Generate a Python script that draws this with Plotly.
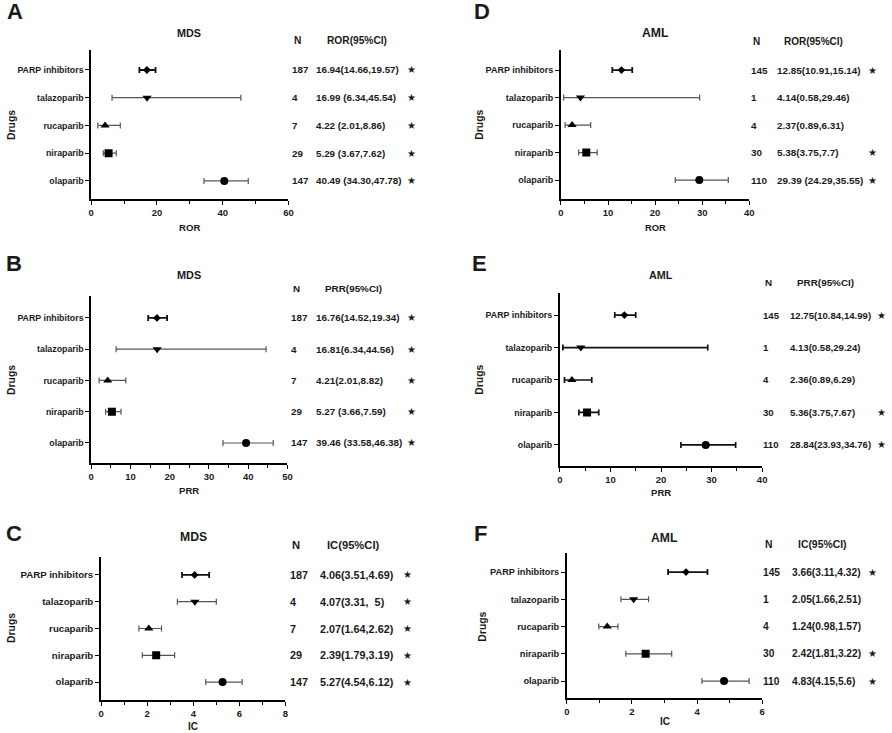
import plotly.graph_objects as go

# ---------------- data ----------------
drugs = ["PARP inhibitors", "talazoparib", "rucaparib", "niraparib", "olaparib"]
symbols = ["diamond", "triangle-down", "triangle-up", "square", "circle"]

mds_n = [187, 4, 7, 29, 147]
aml_n = [145, 1, 4, 30, 110]

mds_ror = [16.94, 16.99, 4.22, 5.29, 40.49]
mds_ror_lo = [14.66, 6.34, 2.01, 3.67, 34.30]
mds_ror_hi = [19.57, 45.54, 8.86, 7.62, 47.78]
mds_ror_txt = ["16.94(14.66,19.57)", "16.99 (6.34,45.54)", "4.22 (2.01,8.86)",
               "5.29 (3.67,7.62)", "40.49 (34.30,47.78)"]

mds_prr = [16.76, 16.81, 4.21, 5.27, 39.46]
mds_prr_lo = [14.52, 6.34, 2.01, 3.66, 33.58]
mds_prr_hi = [19.34, 44.56, 8.82, 7.59, 46.38]
mds_prr_txt = ["16.76(14.52,19.34)", "16.81(6.34,44.56)", "4.21(2.01,8.82)",
               "5.27 (3.66,7.59)", "39.46 (33.58,46.38)"]

mds_ic = [4.06, 4.07, 2.07, 2.39, 5.27]
mds_ic_lo = [3.51, 3.31, 1.64, 1.79, 4.54]
mds_ic_hi = [4.69, 5.00, 2.62, 3.19, 6.12]
mds_ic_txt = ["4.06(3.51,4.69)", "4.07(3.31,\u00a0\u00a05)", "2.07(1.64,2.62)",
              "2.39(1.79,3.19)", "5.27(4.54,6.12)"]

aml_ror = [12.85, 4.14, 2.37, 5.38, 29.39]
aml_ror_lo = [10.91, 0.58, 0.89, 3.75, 24.29]
aml_ror_hi = [15.14, 29.46, 6.31, 7.70, 35.55]
aml_ror_txt = ["12.85(10.91,15.14)", "4.14(0.58,29.46)", "2.37(0.89,6.31)",
               "5.38(3.75,7.7)", "29.39 (24.29,35.55)"]

aml_prr = [12.75, 4.13, 2.36, 5.36, 28.84]
aml_prr_lo = [10.84, 0.58, 0.89, 3.75, 23.93]
aml_prr_hi = [14.99, 29.24, 6.29, 7.67, 34.76]
aml_prr_txt = ["12.75(10.84,14.99)", "4.13(0.58,29.24)", "2.36(0.89,6.29)",
               "5.36(3.75,7.67)", "28.84(23.93,34.76)"]

aml_ic = [3.66, 2.05, 1.24, 2.42, 4.83]
aml_ic_lo = [3.11, 1.66, 0.98, 1.81, 4.15]
aml_ic_hi = [4.32, 2.51, 1.57, 3.22, 5.60]
aml_ic_txt = ["3.66(3.11,4.32)", "2.05(1.66,2.51)", "1.24(0.98,1.57)",
              "2.42(1.81,3.22)", "4.83(4.15,5.6)"]

mds_sig = [True, True, True, True, True]
aml_sig = [True, False, False, True, True]

# ---------------- layout geometry (pixels) ----------------
W, H = 892, 733
def fx(x): return x / W
def fy(y): return 1 - y / H

panels = [
    dict(letter="A", title="MDS", metric="ROR", val=mds_ror, lo=mds_ror_lo, hi=mds_ror_hi, txt=mds_ror_txt,
         n=mds_n, sig=mds_sig, xmax=60, dt=20, mdt=10, dark=False,
         ax0=89, ax1=288, top=50, bot=199, yr=[-0.65, 4.72],
         letpos=(12, 12), tpos=(188, 33), hy=41, ncol=290, vcol=314, hcol=325, scol=412,
         xlab_y=227, dlab=(8, 125), vf=9.8, hf=10.2, cf=8.8, tf=10.8, lf=9.6),
    dict(letter="B", title="MDS", metric="PRR", val=mds_prr, lo=mds_prr_lo, hi=mds_prr_hi, txt=mds_prr_txt,
         n=mds_n, sig=mds_sig, xmax=50, dt=10, mdt=5, dark=False,
         ax0=89, ax1=287, top=296, bot=463, yr=[-0.64, 4.70],
         letpos=(11, 263), tpos=(188, 275), hy=288, ncol=289, vcol=314, hcol=323, scol=412,
         xlab_y=490, dlab=(8, 380), vf=9.9, hf=9.9, cf=8.8, tf=10.9, lf=9.6),
    dict(letter="C", title="MDS", metric="IC", val=mds_ic, lo=mds_ic_lo, hi=mds_ic_hi, txt=mds_ic_txt,
         n=mds_n, sig=mds_sig, xmax=8, dt=2, mdt=1, dark=False,
         ax0=99, ax1=285, top=557, bot=700, yr=[-0.67, 4.67],
         letpos=(11, 533), tpos=(192, 537), hy=545, ncol=288, vcol=318, hcol=325, scol=408,
         xlab_y=726, dlab=(8, 628), vf=10.8, hf=11.2, cf=9.7, tf=12.2, lf=10),
    dict(letter="D", title="AML", metric="ROR", val=aml_ror, lo=aml_ror_lo, hi=aml_ror_hi, txt=aml_ror_txt,
         n=aml_n, sig=aml_sig, xmax=40, dt=10, mdt=5, dark=False,
         ax0=563, ax1=753, top=50, bot=199, yr=[-0.69, 4.73],
         letpos=(483, 12), tpos=(658, 33), hy=42, ncol=753, vcol=779, hcol=786, scol=877,
         xlab_y=227, dlab=(480, 125), vf=9.9, hf=10, cf=9, tf=12.2, lf=9.4),
    dict(letter="E", title="AML", metric="PRR", val=aml_prr, lo=aml_prr_lo, hi=aml_prr_hi, txt=aml_prr_txt,
         n=aml_n, sig=aml_sig, xmax=40, dt=10, mdt=5, dark=True,
         ax0=562, ax1=766, top=293, bot=466, yr=[-0.65, 4.68],
         letpos=(481, 263), tpos=(664, 275), hy=282, ncol=765, vcol=792, hcol=799, scol=886,
         xlab_y=492, dlab=(480, 380), vf=9.6, hf=9.9, cf=8.9, tf=10.8, lf=9.6),
    dict(letter="F", title="AML", metric="IC", val=aml_ic, lo=aml_ic_lo, hi=aml_ic_hi, txt=aml_ic_txt,
         n=aml_n, sig=aml_sig, xmax=6, dt=2, mdt=1, dark=False,
         ax0=569, ax1=766, top=553, bot=698, yr=[-0.62, 4.70],
         letpos=(482, 533), tpos=(667, 538), hy=544, ncol=765, vcol=794, hcol=800, scol=877,
         xlab_y=721, dlab=(483, 627), vf=10.2, hf=10.4, cf=9.2, tf=12.2, lf=10),
]

marker_sizes = [6, 8, 8, 8, 8]
bar_colors = ["#111111", "#555555", "#555555", "#555555", "#555555"]
bar_thick = [1.8, 1.2, 1.2, 1.2, 1.2]

FONT = "Liberation Sans, Arial, sans-serif"
TXT = "#1a1a1a"

fig = go.Figure()
annotations = []
layout_axes = {}

for k, p in enumerate(panels):
    sfx = "" if k == 0 else str(k + 1)
    xname, yname = "x" + sfx, "y" + sfx
    for i, d in enumerate(drugs):
        bc = "#111111" if p["dark"] else bar_colors[i]
        bt = 1.7 if p["dark"] else bar_thick[i]
        fig.add_trace(go.Scatter(
            x=[p["val"][i]], y=[d], mode="markers",
            marker=dict(symbol=symbols[i], size=marker_sizes[i], color="black"),
            error_x=dict(type="data", symmetric=False,
                         array=[p["hi"][i] - p["val"][i]],
                         arrayminus=[p["val"][i] - p["lo"][i]],
                         color=bc, thickness=bt, width=3),
            xaxis=xname, yaxis=yname, showlegend=False, hoverinfo="skip"))
        # table rows
        annotations.append(dict(x=fx(p["ncol"]), y=d, xref="paper", yref=yname, text=str(p["n"][i]),
                                showarrow=False, xanchor="left", yanchor="middle",
                                font=dict(size=p["vf"], family=FONT, color=TXT, weight="bold")))
        annotations.append(dict(x=fx(p["vcol"]), y=d, xref="paper", yref=yname, text=p["txt"][i],
                                showarrow=False, xanchor="left", yanchor="middle",
                                font=dict(size=p["vf"], family=FONT, color=TXT, weight="bold")))
        if p["sig"][i]:
            annotations.append(dict(x=fx(p["scol"]), y=d, xref="paper", yref=yname, text="★",
                                    showarrow=False, xanchor="center", yanchor="middle",
                                    font=dict(size=10, family="DejaVu Sans", color=TXT)))
    layout_axes["xaxis" + sfx] = dict(
        domain=[fx(p["ax0"]), fx(p["ax1"])], anchor=yname, range=[0, p["xmax"]],
        tick0=0, dtick=p["dt"], showline=True, linecolor="black", linewidth=1.8,
        ticks="outside", ticklen=4, tickwidth=1.4, tickcolor="black",
        minor=dict(dtick=p["mdt"], tick0=0, ticks="outside", ticklen=3, tickwidth=1.2, tickcolor="black"),
        showgrid=False, zeroline=False, fixedrange=True,
        tickfont=dict(size=9.5, family=FONT, color=TXT, weight="bold"))
    layout_axes["yaxis" + sfx] = dict(
        domain=[fy(p["bot"]), fy(p["top"])], anchor=xname, type="category",
        categoryorder="array", categoryarray=drugs[::-1], range=p["yr"],
        showline=True, linecolor="black", linewidth=1.8,
        ticks="outside", ticklen=4, tickwidth=1.4, tickcolor="black",
        showgrid=False, zeroline=False, fixedrange=True,
        tickfont=dict(size=p["cf"], family=FONT, color=TXT, weight="bold"))
    # panel letter
    annotations.append(dict(x=fx(p["letpos"][0]), y=fy(p["letpos"][1]), xref="paper", yref="paper",
                            text=p["letter"], showarrow=False, xanchor="center", yanchor="middle",
                            font=dict(size=22, family=FONT, color=TXT, weight="bold")))
    # title
    annotations.append(dict(x=fx(p["tpos"][0]), y=fy(p["tpos"][1]), xref="paper", yref="paper",
                            text=p["title"], showarrow=False, xanchor="center", yanchor="middle",
                            font=dict(size=p["tf"], family=FONT, color=TXT, weight="bold")))
    # headers
    annotations.append(dict(x=fx(p["ncol"] + 2), y=fy(p["hy"]), xref="paper", yref="paper",
                            text="N", showarrow=False, xanchor="left", yanchor="middle",
                            font=dict(size=p["hf"], family=FONT, color=TXT, weight="bold")))
    annotations.append(dict(x=fx(p["hcol"]), y=fy(p["hy"]), xref="paper", yref="paper",
                            text=p["metric"] + "(95%CI)", showarrow=False, xanchor="left", yanchor="middle",
                            font=dict(size=p["hf"], family=FONT, color=TXT, weight="bold")))
    # x label
    annotations.append(dict(x=fx((p["ax0"] + p["ax1"]) / 2), y=fy(p["xlab_y"]), xref="paper", yref="paper",
                            text=p["metric"], showarrow=False, xanchor="center", yanchor="middle",
                            font=dict(size=p["lf"], family=FONT, color=TXT, weight="bold")))
    # y label
    annotations.append(dict(x=fx(p["dlab"][0]), y=fy(p["dlab"][1]), xref="paper", yref="paper",
                            text="Drugs", textangle=-90, showarrow=False, xanchor="center", yanchor="middle",
                            font=dict(size=10.4, family=FONT, color=TXT, weight="bold")))

fig.update_layout(
    width=W, height=H, margin=dict(l=0, r=0, t=0, b=0),
    paper_bgcolor="white", plot_bgcolor="white",
    font=dict(family=FONT, color=TXT),
    annotations=annotations, showlegend=False,
    **layout_axes)

fig.write_html("out.html", config={"displayModeBar": False},
               post_script="document.body.style.margin='0';document.body.style.overflow='hidden';")
